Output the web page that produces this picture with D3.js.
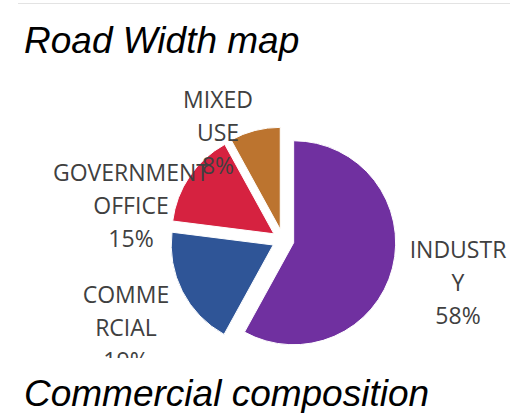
<!DOCTYPE html>
<html>
<head>
<meta charset="utf-8">
<script src="https://cdn.jsdelivr.net/npm/d3@7"></script>
<style>
  html, body { margin: 0; padding: 0; background: #fff; }
  svg { display: block; }
</style>
</head>
<body>
<svg id="chart-area"></svg>
<script>
// data
const categories = ["INDUSTRY", "COMMERCIAL", "GOVERNMENT OFFICE", "MIXED USE"]
const shares = [58, 19, 15, 8]
// how the labels wrap in the picture
const labelLines = [["INDUSTR", "Y"], ["COMME", "RCIAL"], ["GOVERNMENT", "OFFICE"], ["MIXED", "USE"]]
const titles = ["Road Width map", "Commercial composition"]

const svgWidth = 510
const svgHeight = 413
const center = { x: 283, y: 240 }
const radius = 102
const explode = 11
const lineHeight = 33

const colors = ["#7030A0", "#2F5597", "#D62240", "#BC742F"]
// label block position (center x, first baseline) relative to pie center
const labelAt = [[175, 18], [-157, 63], [-152, -59], [-65, -132]]

const svg = d3.select("#chart-area")
  .attr("width", svgWidth)
  .attr("height", svgHeight)

// faint rule of the previous chart at the very top
svg.append("line")
  .attr("x1", 18).attr("x2", svgWidth)
  .attr("y1", 3.5).attr("y2", 3.5)
  .attr("stroke", "#e3e3e3")

svg.append("defs").append("clipPath")
  .attr("id", "plot-clip")
  .append("rect")
  .attr("x", 0).attr("y", 70)
  .attr("width", svgWidth).attr("height", 288)

const chart = svg.append("g")
  .attr("clip-path", "url(#plot-clip)")
  .append("g")
  .attr("transform", `translate(${center.x},${center.y})`)

const dataset = categories.map((c, i) => ({ category: c, value: shares[i], lines: labelLines[i], idx: i }))

const pie = d3.pie()
  .sort(null)
  .value(d => d.value)
  .startAngle(0)
  .endAngle(2 * Math.PI)

const arc = d3.arc()
  .innerRadius(0)
  .outerRadius(radius)

const arcs = pie(dataset)

chart.selectAll("path")
  .data(arcs)
  .enter().append("path")
  .attr("d", arc)
  .attr("fill", d => colors[d.data.idx])
  .attr("stroke", "#fff")
  .attr("stroke-width", 1)
  .attr("transform", d => {
    const mid = (d.startAngle + d.endAngle) / 2
    return `translate(${Math.sin(mid) * explode},${-Math.cos(mid) * explode})`
  })

const labels = chart.selectAll("text.lbl")
  .data(arcs)
  .enter().append("text")
  .attr("class", "lbl")
  .attr("text-anchor", "middle")
  .attr("font-family", "'Open Sans', 'Noto Sans', sans-serif")
  .attr("font-size", 23)
  .attr("fill", "#404040")

labels.each(function(d) {
  const [lx, ly] = labelAt[d.data.idx]
  const lines = d.data.lines.concat([d3.format(".0%")(d.data.value / d3.sum(shares))])
  d3.select(this).selectAll("tspan")
    .data(lines)
    .enter().append("tspan")
    .attr("x", lx)
    .attr("y", (t, i) => ly + i * lineHeight)
    .text(t => t)
})

// section titles
svg.selectAll("text.title")
  .data(titles)
  .enter().append("text")
  .attr("class", "title")
  .attr("x", 24)
  .attr("y", (d, i) => i === 0 ? 53 : 406)
  .attr("font-family", "'Liberation Sans', Arial, sans-serif")
  .attr("font-style", "italic")
  .attr("font-size", 37)
  .attr("fill", "#000")
  .text(d => d)
</script>
</body>
</html>
